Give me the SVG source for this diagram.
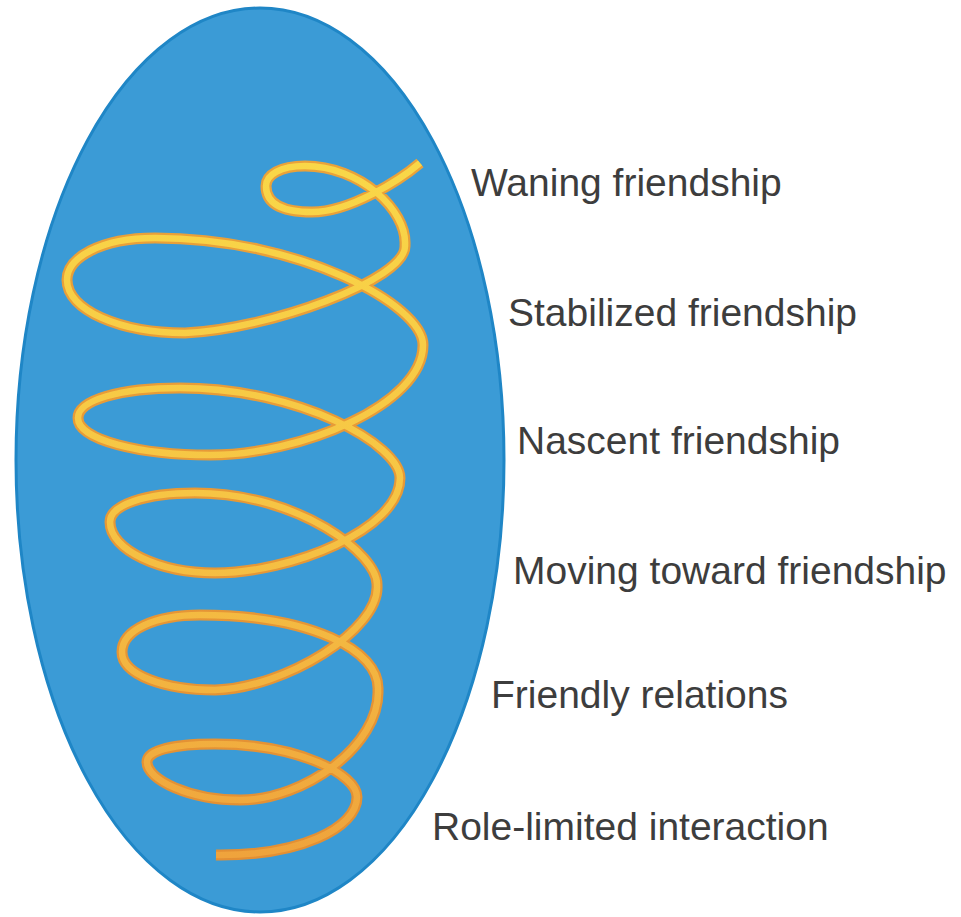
<svg xmlns="http://www.w3.org/2000/svg" width="961" height="917" viewBox="0 0 961 917">
<defs>
<linearGradient id="core" gradientUnits="userSpaceOnUse" x1="0" y1="160" x2="0" y2="860">
<stop offset="0" stop-color="#f9d748"/>
<stop offset="0.5" stop-color="#f6c444"/>
<stop offset="1" stop-color="#efa33c"/>
</linearGradient>
<linearGradient id="edge" gradientUnits="userSpaceOnUse" x1="0" y1="160" x2="0" y2="860">
<stop offset="0" stop-color="#eaa23a"/>
<stop offset="1" stop-color="#e38f33"/>
</linearGradient>
<path id="spiralPath" d="M216,855 C300,856 357,828 357,797 C357,775 300,744 215,744 C175,744 147,750 147,762 C147,780 190,800 240,800 C305,800 380,745 378,690 C380,650 310,615 200,615 C155,615 122,630 122,652 C122,675 165,690 215,690 C285,688 380,630 377,585 C378,555 300,493 195,493 C145,493 110,505 110,522 C110,550 160,573 215,573 C290,573 400,530 400,478 C400,445 300,388 180,388 C120,388 78,400 78,418 C78,440 140,455 210,455 C300,455 423,405 423,345 C423,305 300,238 155,238 C100,238 67,258 67,280 C67,310 120,333 185,333 C265,330 408,280 405,245 C407,210 360,166 305,166 C280,166 266,175 266,186 C266,205 285,212 312,212 C350,212 400,180 420,163"/>
</defs>
<style>
.lbl{font-family:"Liberation Sans","Helvetica",Arial,sans-serif;font-size:39px;fill:#3d3d3d}
.sp{fill:none;stroke-linecap:butt;stroke-linejoin:round}
</style>
<g id="oval">
<ellipse cx="260" cy="460" rx="244" ry="452" fill="#3b9bd6" stroke="#1f86c6" stroke-width="3"/>
</g>
<g id="spiral">
<use href="#spiralPath" class="sp" stroke="url(#edge)" stroke-width="11"/>
<use href="#spiralPath" class="sp" stroke="url(#core)" stroke-width="6.5"/>
</g>
<g id="connectors"></g>
<g id="waning"><text class="lbl" x="471" y="196">Waning friendship</text></g>
<g id="stabilized"><text class="lbl" x="508" y="326">Stabilized friendship</text></g>
<g id="nascent"><text class="lbl" x="517" y="454">Nascent friendship</text></g>
<g id="moving"><text class="lbl" x="513" y="584">Moving toward friendship</text></g>
<g id="friendly"><text class="lbl" x="491" y="708">Friendly relations</text></g>
<g id="role"><text class="lbl" x="432" y="840">Role-limited interaction</text></g>
</svg>
